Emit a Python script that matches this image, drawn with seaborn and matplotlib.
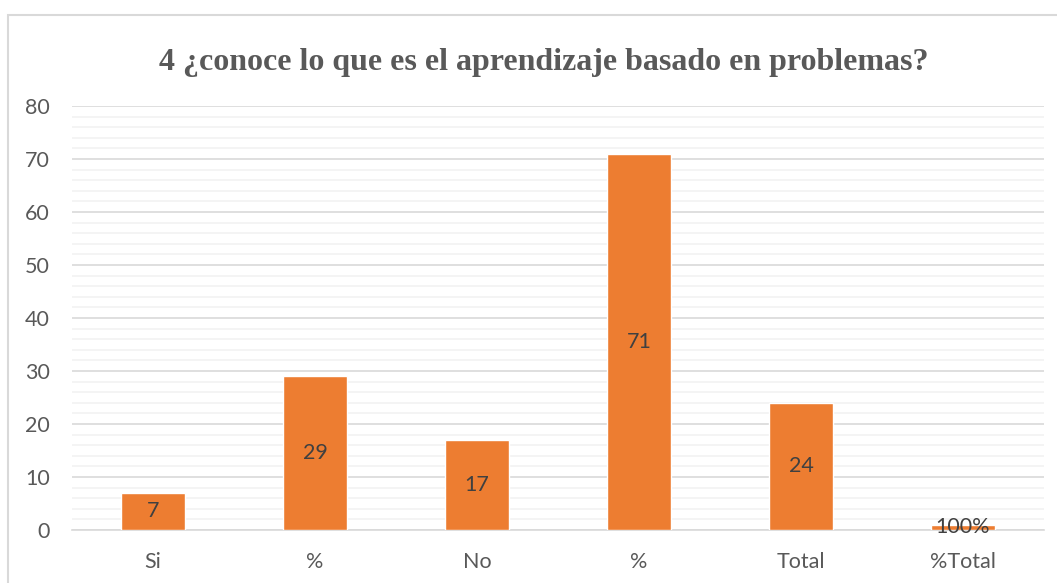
import matplotlib.pyplot as plt
import seaborn as sns
import pandas as pd
from matplotlib.patches import Rectangle
from matplotlib.ticker import MultipleLocator

# Data
categorias = ['Si', '%', 'No', '%', 'Total', '%Total']
valores = [7, 29, 17, 71, 24, 1]
etiquetas = ['7', '29', '17', '71', '24', '100%']

df = pd.DataFrame({'pos': range(len(categorias)), 'valor': valores})

sns.set_theme(style='white')
plt.rcParams['font.family'] = ['Lato', 'DejaVu Sans']

fig = plt.figure(figsize=(10.57, 5.83), dpi=100)
ax = fig.add_axes([0.0681, 0.0909, 0.9196, 0.7273])

sns.barplot(data=df, x='pos', y='valor', color='#ED7D31', width=0.4,
            saturation=1, ax=ax, zorder=3)

# Value labels in the middle of each bar
for i, (v, t) in enumerate(zip(valores, etiquetas)):
    ax.text(i, v / 2, t, ha='center', va='center', fontsize=15.5,
            color='#404040', zorder=4)

ax.set_ylim(0, 80)
ax.set_xlim(-0.5, len(categorias) - 0.5)
ax.yaxis.set_major_locator(MultipleLocator(10))
ax.yaxis.set_minor_locator(MultipleLocator(2))
ax.grid(which='major', axis='y', color='#D9D9D9', linewidth=1.2, zorder=0)
ax.grid(which='minor', axis='y', color='#F2F2F2', linewidth=1.2, zorder=0)
ax.set_axisbelow(True)

ax.set_xticks(range(len(categorias)))
ax.set_xticklabels(categorias)
ax.tick_params(axis='both', which='both', length=0, labelsize=15.5,
               labelcolor='#595959')
ax.tick_params(axis='y', pad=16)
ax.tick_params(axis='x', pad=16)
ax.set_xlabel('')
ax.set_ylabel('')

for s in ['top', 'right', 'left']:
    ax.spines[s].set_visible(False)
ax.spines['bottom'].set_color('#D9D9D9')
ax.spines['bottom'].set_linewidth(1.2)

fig.text(0.514, 0.893, '4 ¿conoce lo que es el aprendizaje basado en problemas?',
         ha='center', va='center', fontsize=23, fontweight='bold',
         family='Liberation Serif', color='#595959')

# Outer chart frame
fig.patches.append(Rectangle((8 / 1057, -0.1), 1.2, 1 - 15.5 / 583 + 0.1,
                             transform=fig.transFigure, fill=False,
                             edgecolor='#D9D9D9', linewidth=1.5))

plt.savefig('out.png', dpi=100)
